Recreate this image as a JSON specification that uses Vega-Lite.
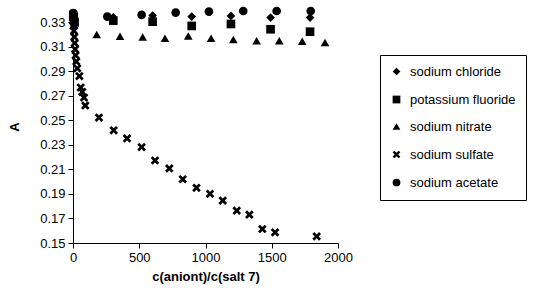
{
  "$schema": "https://vega.github.io/schema/vega-lite/v6.json",
  "autosize": "none",
  "width": 265,
  "height": 233,
  "padding": {"left": 73, "top": 10, "right": 198, "bottom": 45},
  "background": "white",
  "config": {
    "view": {"stroke": null},
    "font": "Liberation Sans",
    "axis": {
      "domainColor": "black", "tickColor": "black", "grid": false,
      "labelColor": "black", "titleColor": "black",
      "labelFontSize": 13, "titleFontSize": 13, "titleFontWeight": "bold",
      "tickSize": 5, "labelPadding": 3, "labelFont": "Liberation Sans", "titleFont": "Liberation Sans"
    },
    "legend": {
      "labelFontSize": 13, "labelFont": "Liberation Sans", "labelColor": "black"
    }
  },
  "data": {
    "values": [
      {"ratio": 1, "A": 0.336, "salt": "sodium chloride"},
      {"ratio": 4, "A": 0.334, "salt": "sodium chloride"},
      {"ratio": 9, "A": 0.333, "salt": "sodium chloride"},
      {"ratio": 304, "A": 0.334, "salt": "sodium chloride"},
      {"ratio": 601, "A": 0.3355, "salt": "sodium chloride"},
      {"ratio": 896, "A": 0.3346, "salt": "sodium chloride"},
      {"ratio": 1192, "A": 0.3352, "salt": "sodium chloride"},
      {"ratio": 1491, "A": 0.3338, "salt": "sodium chloride"},
      {"ratio": 1789, "A": 0.3338, "salt": "sodium chloride"},

      {"ratio": 2, "A": 0.335, "salt": "potassium fluoride"},
      {"ratio": 6, "A": 0.332, "salt": "potassium fluoride"},
      {"ratio": 12, "A": 0.330, "salt": "potassium fluoride"},
      {"ratio": 304, "A": 0.3313, "salt": "potassium fluoride"},
      {"ratio": 601, "A": 0.3305, "salt": "potassium fluoride"},
      {"ratio": 896, "A": 0.327, "salt": "potassium fluoride"},
      {"ratio": 1192, "A": 0.3286, "salt": "potassium fluoride"},
      {"ratio": 1491, "A": 0.3243, "salt": "potassium fluoride"},
      {"ratio": 1789, "A": 0.3223, "salt": "potassium fluoride"},

      {"ratio": 3, "A": 0.334, "salt": "sodium nitrate"},
      {"ratio": 8, "A": 0.328, "salt": "sodium nitrate"},
      {"ratio": 179, "A": 0.320, "salt": "sodium nitrate"},
      {"ratio": 355, "A": 0.3185, "salt": "sodium nitrate"},
      {"ratio": 526, "A": 0.318, "salt": "sodium nitrate"},
      {"ratio": 694, "A": 0.317, "salt": "sodium nitrate"},
      {"ratio": 870, "A": 0.3188, "salt": "sodium nitrate"},
      {"ratio": 1042, "A": 0.317, "salt": "sodium nitrate"},
      {"ratio": 1210, "A": 0.316, "salt": "sodium nitrate"},
      {"ratio": 1386, "A": 0.315, "salt": "sodium nitrate"},
      {"ratio": 1557, "A": 0.315, "salt": "sodium nitrate"},
      {"ratio": 1730, "A": 0.3145, "salt": "sodium nitrate"},
      {"ratio": 1902, "A": 0.3135, "salt": "sodium nitrate"},

      {"ratio": 1, "A": 0.337, "salt": "sodium sulfate"},
      {"ratio": 2, "A": 0.334, "salt": "sodium sulfate"},
      {"ratio": 3, "A": 0.331, "salt": "sodium sulfate"},
      {"ratio": 5, "A": 0.327, "salt": "sodium sulfate"},
      {"ratio": 7, "A": 0.323, "salt": "sodium sulfate"},
      {"ratio": 10, "A": 0.318, "salt": "sodium sulfate"},
      {"ratio": 13, "A": 0.313, "salt": "sodium sulfate"},
      {"ratio": 16, "A": 0.308, "salt": "sodium sulfate"},
      {"ratio": 20, "A": 0.303, "salt": "sodium sulfate"},
      {"ratio": 25, "A": 0.298, "salt": "sodium sulfate"},
      {"ratio": 32, "A": 0.2924, "salt": "sodium sulfate"},
      {"ratio": 48, "A": 0.2861, "salt": "sodium sulfate"},
      {"ratio": 58, "A": 0.2768, "salt": "sodium sulfate"},
      {"ratio": 70, "A": 0.2732, "salt": "sodium sulfate"},
      {"ratio": 83, "A": 0.2686, "salt": "sodium sulfate"},
      {"ratio": 93, "A": 0.2621, "salt": "sodium sulfate"},
      {"ratio": 196, "A": 0.2523, "salt": "sodium sulfate"},
      {"ratio": 307, "A": 0.2419, "salt": "sodium sulfate"},
      {"ratio": 408, "A": 0.2353, "salt": "sodium sulfate"},
      {"ratio": 518, "A": 0.2282, "salt": "sodium sulfate"},
      {"ratio": 619, "A": 0.2173, "salt": "sodium sulfate"},
      {"ratio": 727, "A": 0.2108, "salt": "sodium sulfate"},
      {"ratio": 828, "A": 0.2020, "salt": "sodium sulfate"},
      {"ratio": 932, "A": 0.1950, "salt": "sodium sulfate"},
      {"ratio": 1034, "A": 0.1901, "salt": "sodium sulfate"},
      {"ratio": 1130, "A": 0.1846, "salt": "sodium sulfate"},
      {"ratio": 1236, "A": 0.1764, "salt": "sodium sulfate"},
      {"ratio": 1331, "A": 0.1731, "salt": "sodium sulfate"},
      {"ratio": 1429, "A": 0.1614, "salt": "sodium sulfate"},
      {"ratio": 1525, "A": 0.1587, "salt": "sodium sulfate"},
      {"ratio": 1839, "A": 0.1554, "salt": "sodium sulfate"},

      {"ratio": 2, "A": 0.3375, "salt": "sodium acetate"},
      {"ratio": 6, "A": 0.336, "salt": "sodium acetate"},
      {"ratio": 259, "A": 0.3346, "salt": "sodium acetate"},
      {"ratio": 518, "A": 0.336, "salt": "sodium acetate"},
      {"ratio": 775, "A": 0.3379, "salt": "sodium acetate"},
      {"ratio": 1026, "A": 0.3387, "salt": "sodium acetate"},
      {"ratio": 1285, "A": 0.3392, "salt": "sodium acetate"},
      {"ratio": 1537, "A": 0.3392, "salt": "sodium acetate"},
      {"ratio": 1794, "A": 0.3392, "salt": "sodium acetate"}
    ]
  },
  "mark": {"type": "point", "filled": true, "color": "black", "opacity": 1, "size": 75},
  "encoding": {
    "x": {
      "field": "ratio", "type": "quantitative",
      "scale": {"domain": [0, 2000], "nice": false, "zero": false},
      "axis": {"values": [0, 500, 1000, 1500, 2000], "format": "d", "title": "c(aniont)/c(salt 7)", "titlePadding": 6, "labelFlush": false}
    },
    "y": {
      "field": "A", "type": "quantitative",
      "scale": {"domain": [0.15, 0.34], "nice": false, "zero": false},
      "axis": {"values": [0.15, 0.17, 0.19, 0.21, 0.23, 0.25, 0.27, 0.29, 0.31, 0.33], "format": ".2f", "title": "A", "titlePadding": 18, "labelFlush": false}
    },
    "shape": {
      "field": "salt", "type": "nominal",
      "scale": {
        "domain": ["sodium chloride", "potassium fluoride", "sodium nitrate", "sodium sulfate", "sodium acetate"],
        "range": ["diamond", "square", "triangle-up", "M-1,-0.55L-0.55,-1L0,-0.45L0.55,-1L1,-0.55L0.45,0L1,0.55L0.55,1L0,0.45L-0.55,1L-1,0.55L-0.45,0Z", "circle"]
      },
      "legend": {
        "title": null, "orient": "none", "legendX": 307, "legendY": 45,
        "strokeColor": "black", "padding": 10, "rowPadding": 13,
        "symbolFillColor": "black", "symbolStrokeColor": "black", "symbolSize": 60,
        "symbolOpacity": 1, "labelOffset": 7
      }
    }
  }
}
